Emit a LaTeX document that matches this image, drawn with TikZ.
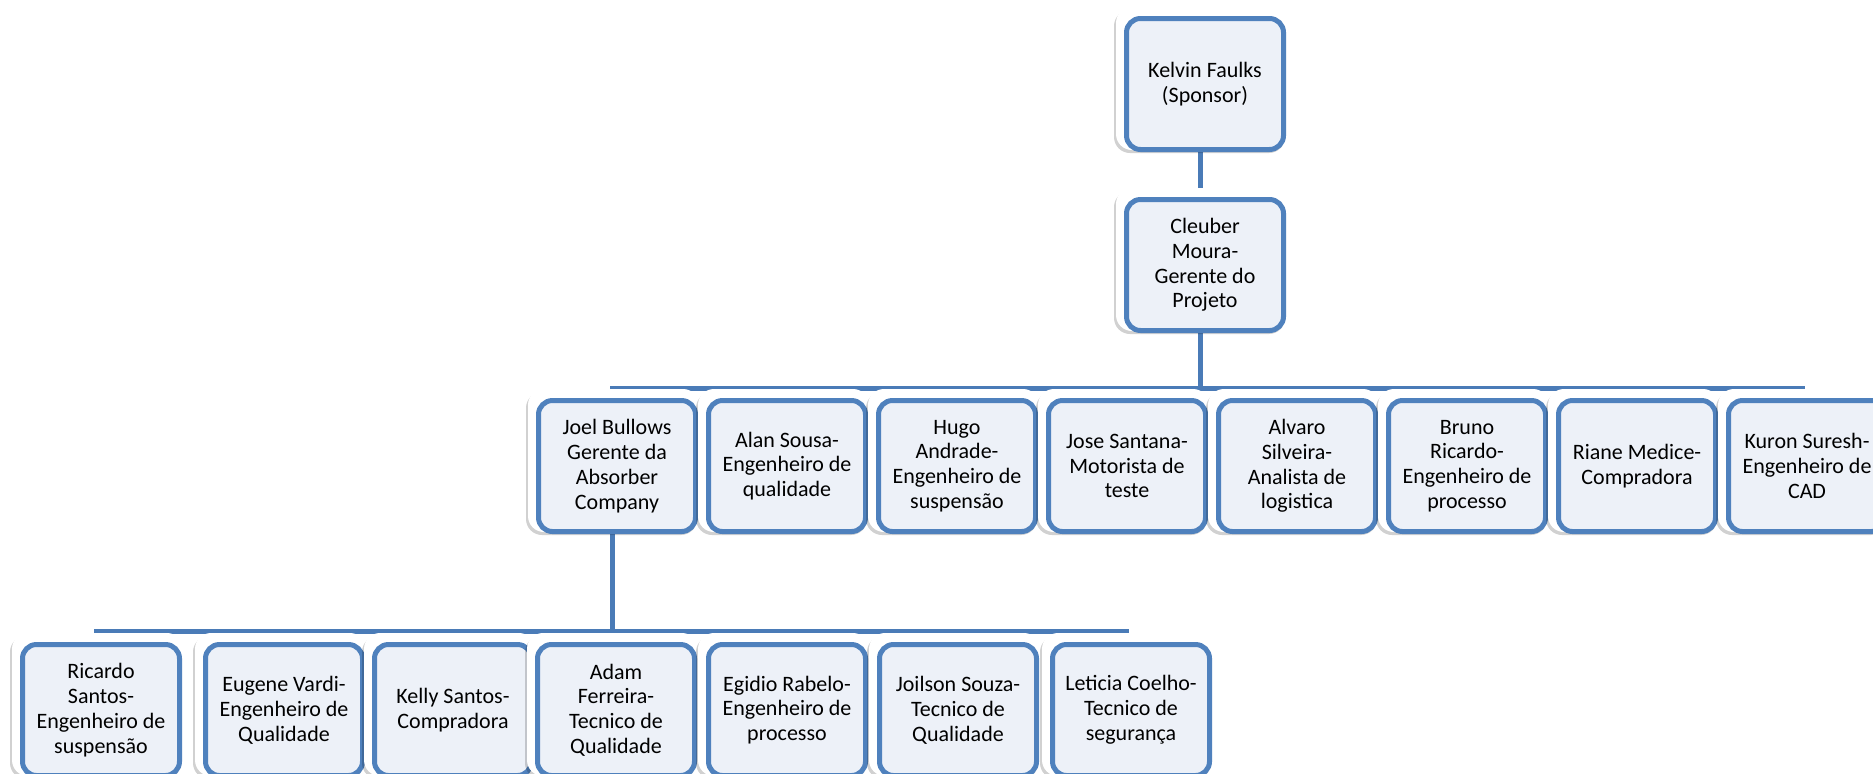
\documentclass[tikz,border=0pt]{standalone}
\usepackage{fontspec}
\setmainfont{Carlito}
\usetikzlibrary{shadows}
\definecolor{cardline}{HTML}{4F81BD}
\definecolor{cardfill}{HTML}{EDF1F8}
\definecolor{linkline}{HTML}{4A7BB7}
\pgfdeclarelayer{links}
\pgfsetlayers{links,main}
\tikzset{
  x=0.5pt, y=-0.5pt,
  card/.style={draw=cardline, line width=2.5pt, fill=cardfill,
    rounded corners=7pt, minimum width=78.5pt, minimum height=65.5pt,
    inner sep=0pt, align=center, font=\fontsize{11}{12.4}\selectfont},
  cardframe/.style={fill=white, rounded corners=8pt,
    drop shadow={shadow xshift=-1pt, shadow yshift=-1.5pt, opacity=0.18, fill=black}},
  link/.style={draw=linkline, line width=2.5pt},
}
% one org-chart card: white bevel frame, then the blue box on top;
% connectors enter at the top of the frame and leave at the bottom of the box
\newcommand\placecard[4]{%
  \fill[cardframe] (#2-89,#3-77) rectangle (#2+82,#3+66);
  \node[card] (#1) at (#2,#3) {#4};
  \coordinate (#1-in) at (#2-5,#3-77);
  \coordinate (#1-out) at ([xshift=-2.5pt]#1.south);
}
\begin{document}
\begin{tikzpicture}
\useasboundingbox (0,0) rectangle (1873,773);
\clip (0,0) rectangle (1873,773);

% top of the chart
\placecard{kelvin}{1205}{84}{\fontsize{11}{13.3}\selectfont Kelvin Faulks\\(Sponsor)}
\placecard{cleuber}{1205}{265}{Cleuber\\Moura-\\Gerente do\\Projeto}

% second level
\placecard{joel}{617}{466}{Joel Bullows\\Gerente da\\Absorber\\Company}
\placecard{alan}{787}{466}{Alan Sousa-\\Engenheiro de\\qualidade}
\placecard{hugo}{957}{466}{Hugo\\Andrade-\\Engenheiro de\\suspensão}
\placecard{jose}{1127}{466}{Jose Santana-\\Motorista de\\teste}
\placecard{alvaro}{1297}{466}{Alvaro\\Silveira-\\Analista de\\logistica}
\placecard{bruno}{1467}{466}{Bruno\\Ricardo-\\Engenheiro de\\processo}
\placecard{riane}{1637}{466}{Riane Medice-\\Compradora}
\placecard{kuron}{1807}{466}{Kuron Suresh-\\Engenheiro de\\CAD}

% third level, reporting to Joel
\placecard{ricardo}{101}{710}{Ricardo\\Santos-\\Engenheiro de\\suspensão}
\placecard{eugene}{284}{710}{Eugene Vardi-\\Engenheiro de\\Qualidade}
\placecard{kelly}{453}{710}{Kelly Santos-\\Compradora}
\placecard{adam}{616}{710}{Adam\\Ferreira-\\Tecnico de\\Qualidade}
\placecard{egidio}{787}{710}{Egidio Rabelo-\\Engenheiro de\\processo}
\placecard{joilson}{958}{710}{Joilson Souza-\\Tecnico de\\Qualidade}
\placecard{leticia}{1131}{710}{Leticia Coelho-\\Tecnico de\\segurança}

% connectors, behind the cards
\begin{pgfonlayer}{links}
  \coordinate (busA) at (0,388);
  \coordinate (busB) at (0,631);
  \draw[link] (kelvin-out) -- (cleuber-in);
  \foreach \c in {joel,alan,hugo,jose,alvaro,bruno,riane,kuron}
    \draw[link] (cleuber-out) -- (cleuber-out |- busA) -| (\c-in);
  \foreach \c in {ricardo,eugene,kelly,adam,egidio,joilson,leticia}
    \draw[link] (joel-out) -- (joel-out |- busB) -| (\c-in);
\end{pgfonlayer}
\end{tikzpicture}
\end{document}
